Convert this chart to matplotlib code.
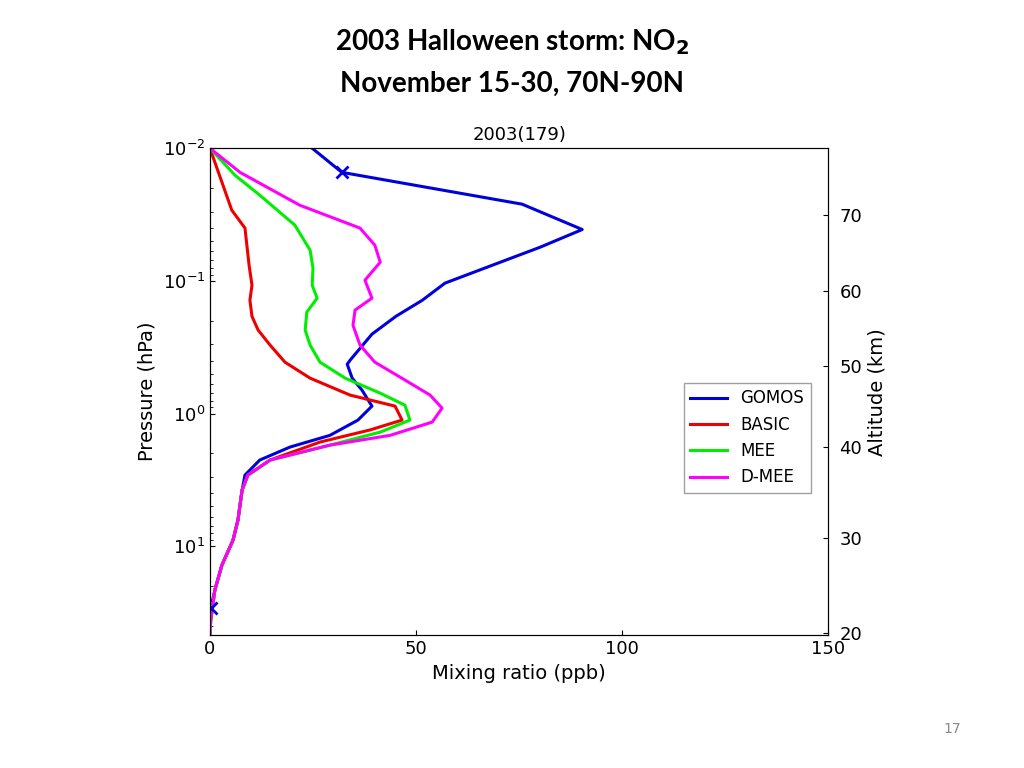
import matplotlib
matplotlib.use("Agg")
import matplotlib.pyplot as plt
import numpy as np

gomos_p = [0.01,0.0152,0.0264,0.041,0.0557,0.0789,0.104,0.14,0.185,0.252,0.396,0.425,0.541,0.667,0.879,1.12,1.46,1.79,2.24,2.91,3.78,6.35,9.0,13.9,21.4,29.3]
gomos_v = [24.8,32.0,75.7,90.3,80.1,67.2,57.0,51.5,45.1,39.3,34.0,33.3,34.5,36.9,39.3,35.9,29.1,19.4,12.1,8.5,7.8,6.8,5.6,2.9,1.2,0.2]
gomos_mark_p = [0.0152, 29.3]
gomos_mark_v = [32.0, 0.2]

tail_p = [2.24,2.91,3.78,6.35,9.0,13.9,21.4,36.1,46.8]
tail_v = [14.6,9.2,7.8,6.8,5.6,2.9,1.2,0.2,0]

basic_p = [0.01,0.0147,0.0293,0.040,0.0762,0.1076,0.14,0.185,0.235,0.305,0.41,0.541,0.726,0.879,1.12,1.33,1.64] + tail_p
basic_v = [0,1.9,5.3,8.5,9.5,10.2,9.7,10.2,11.7,14.6,18.2,24.3,34.0,44.9,46.6,38.8,26.7] + tail_v

mee_p = [0.01,0.016,0.0226,0.038,0.0587,0.0802,0.1076,0.135,0.172,0.235,0.305,0.41,0.541,0.702,0.865,1.12,1.38,1.73] + tail_p
mee_v = [0,6.1,12.1,20.6,24.3,25.0,24.8,26.0,23.5,23.1,24.3,26.7,32.8,41.3,47.3,48.5,41.3,29.1] + tail_v

dmee_p = [0.01,0.0152,0.0269,0.040,0.0538,0.0723,0.0988,0.135,0.166,0.216,0.305,0.41,0.559,0.726,0.91,1.16,1.46,1.73] + tail_p
dmee_v = [0,7.3,21.8,36.4,40.0,41.3,37.6,39.3,35.2,34.7,36.4,40.0,47.3,53.4,56.3,53.9,43.7,29.1] + tail_v

alt_ticks_p = [0.032, 0.1197, 0.44, 1.79, 8.69, 45.2]
alt_labels = ["70", "60", "50", "40", "30", "20"]
x_ticks = [0, 50, 100, 150]

fig = plt.figure(figsize=(10.24, 7.68), dpi=100)
ax = fig.add_axes([0.205, 0.173, 0.604, 0.634])
ax.plot(gomos_v, gomos_p, color="#0000dd", lw=2.2, label="GOMOS")
ax.plot(basic_v, basic_p, color="#ee0000", lw=2.2, label="BASIC")
ax.plot(mee_v, mee_p, color="#00ee00", lw=2.2, label="MEE")
ax.plot(dmee_v, dmee_p, color="#ff00ff", lw=2.2, label="D-MEE")
ax.plot(gomos_mark_v, gomos_mark_p, "x", color="#0000dd", ms=8, mew=2)
ax.set_yscale("log")
ax.set_ylim(46.8, 0.01)
ax.set_xlim(0, 150)
ax.set_xticks(x_ticks)
ax.tick_params(direction="in", labelsize=13, which="both")
ax.tick_params(axis="y", which="minor", left=False)
ax.set_xlabel("Mixing ratio (ppb)", fontsize=14)
ax.set_ylabel("Pressure (hPa)", fontsize=14)
ax.set_title("2003(179)", fontsize=13)
ax2 = ax.twinx()
ax2.set_yscale("log")
ax2.set_ylim(46.8, 0.01)
ax2.set_yticks(alt_ticks_p)
ax2.set_yticklabels(alt_labels)
ax2.minorticks_off()
ax2.tick_params(direction="in", labelsize=13, pad=8)
ax2.set_ylabel("Altitude (km)", fontsize=14)
leg = ax.legend(loc="center right", bbox_to_anchor=(0.985, 0.405), fontsize=12,
                frameon=True, fancybox=False, edgecolor="#888888", handlelength=2.2)
fig.text(0.5, 0.935, "2003 Halloween storm: NO$_\\mathbf{2}$", ha="center", fontsize=20, fontweight="bold", family="Lato")
fig.text(0.5, 0.88, "November 15-30, 70N-90N", ha="center", fontsize=20, fontweight="bold", family="Lato")
fig.text(0.93, 0.045, "17", ha="center", fontsize=10, color="#888888")
fig.savefig("out.png", dpi=100)
